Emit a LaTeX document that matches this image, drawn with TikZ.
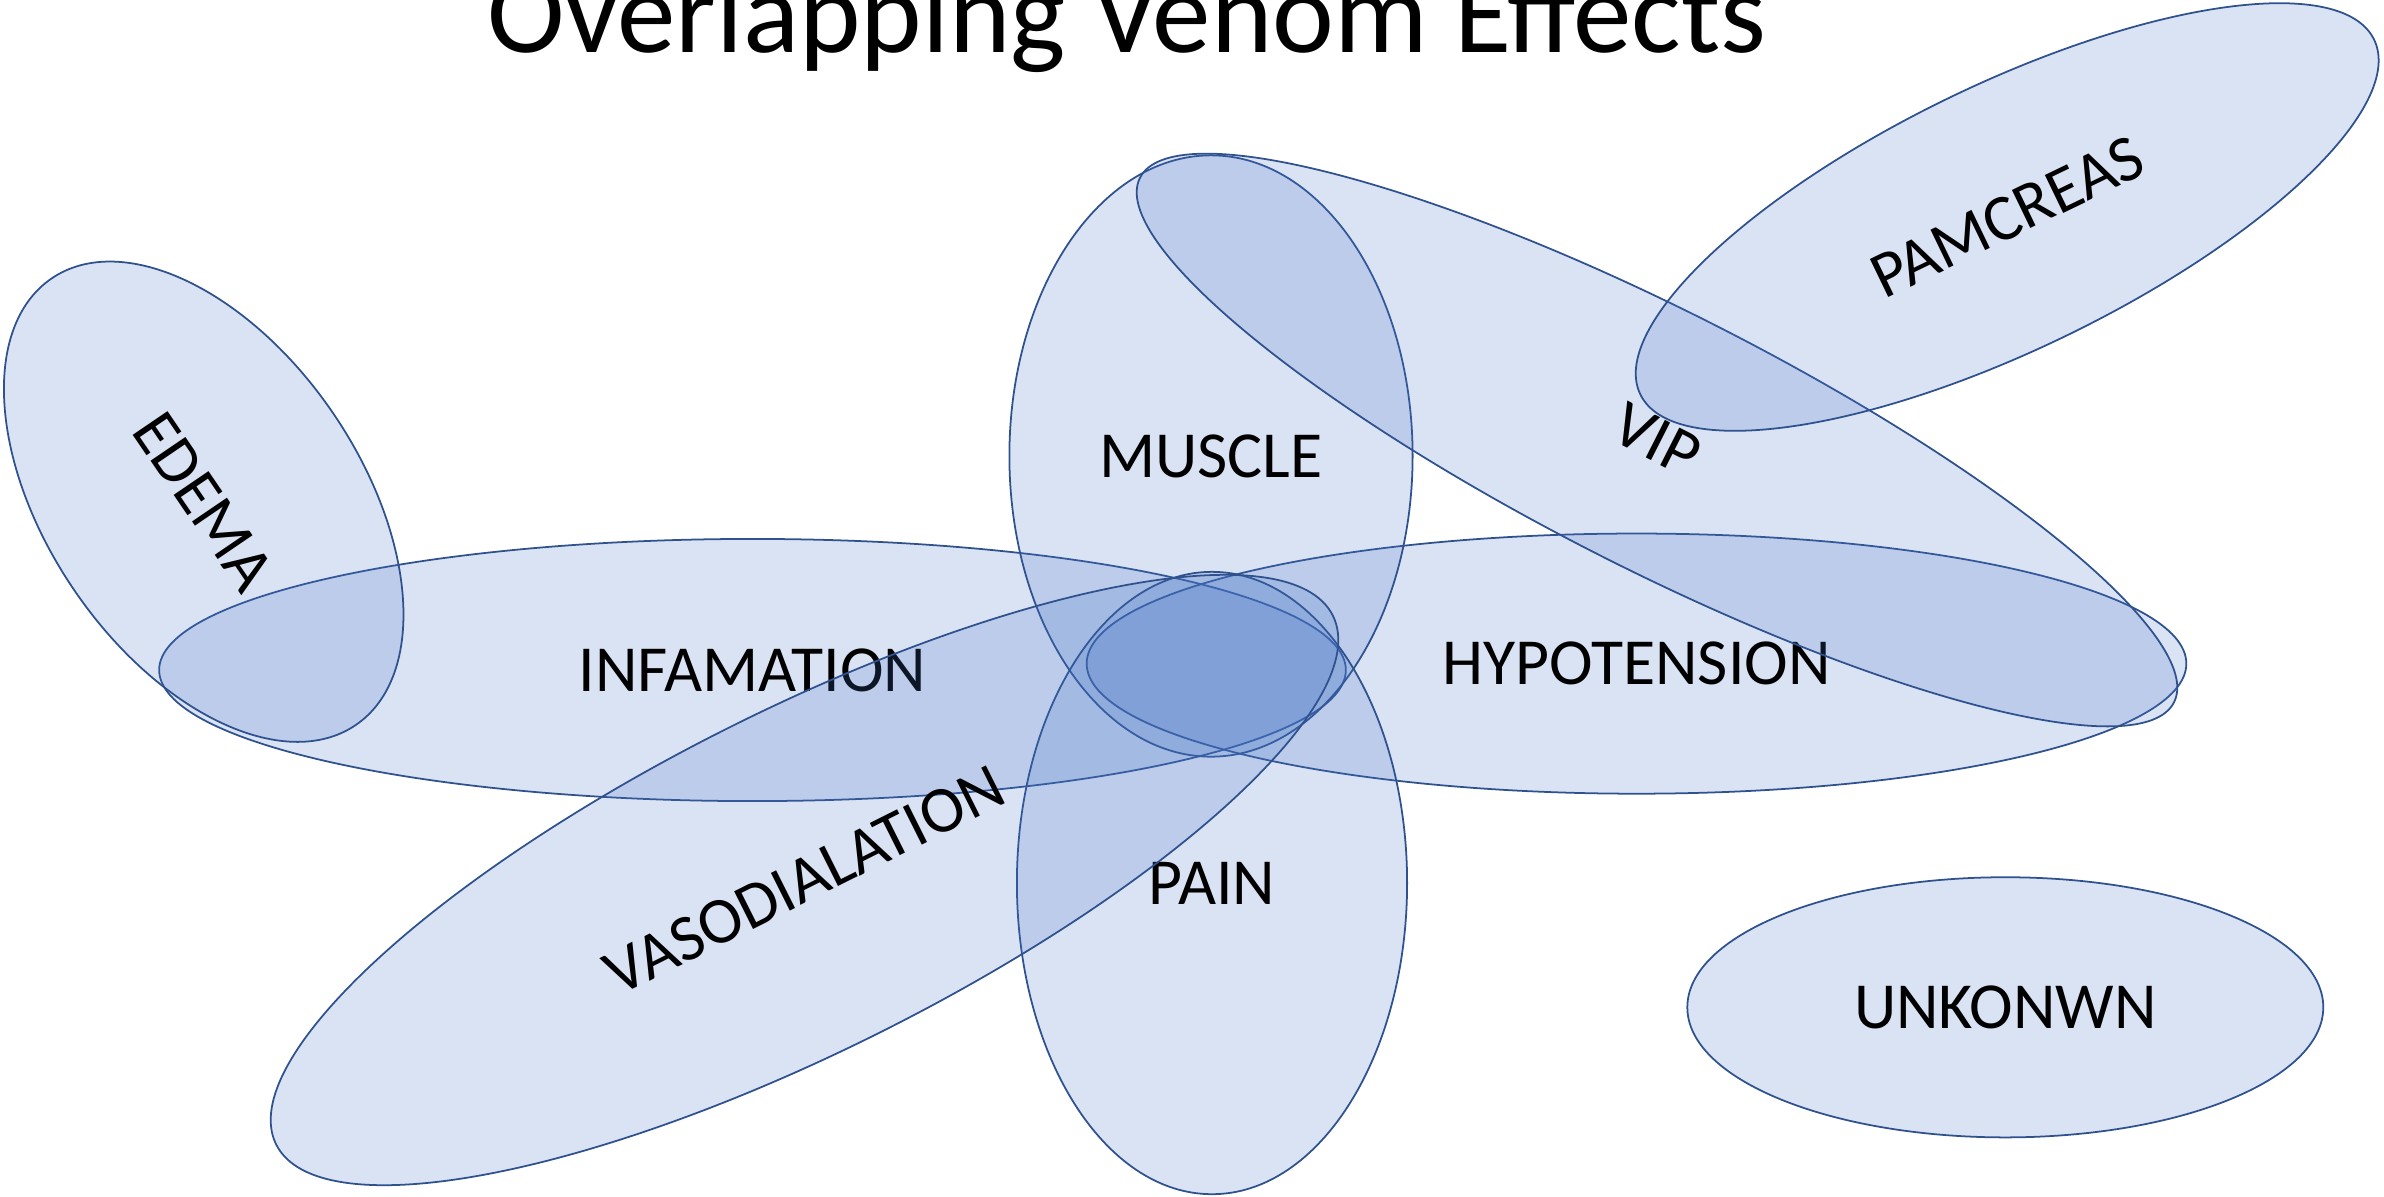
\documentclass[tikz,border=0pt]{standalone}
\usepackage{fontspec}
\setmainfont{Carlito}
\usetikzlibrary{shapes.geometric}
\definecolor{vfill}{HTML}{4472C4}
\definecolor{vline}{HTML}{2F528F}
\begin{document}
\begin{tikzpicture}[x=0.01cm,y=-0.01cm,
  venn/.style={ellipse, draw=vline, line width=0.5pt, fill=vfill,
    fill opacity=0.2, text opacity=1, text=black, inner sep=0pt,
    font=\fontsize{18.7}{22}\selectfont}]
\clip (0,0) rectangle (2384,1196);
\useasboundingbox (0,0) rectangle (2384,1196);
\node[venn, minimum width=11.86cm, minimum height=2.62cm] (infl) at (752.5,670) {INFAMATION};
\node[venn, minimum width=10.99cm, minimum height=2.6cm] (hypo) at (1636.5,663.6) {HYPOTENSION};
\node[venn, minimum width=4.03cm, minimum height=6.01cm] (musc) at (1211,456) {MUSCLE};
\node[venn, minimum width=3.9cm, minimum height=6.22cm] (pain) at (1212,883) {PAIN};
\node[venn, minimum width=5.4cm, minimum height=3.134cm, rotate=-55.75] (edema) at (203.7,501.7) {EDEMA};
\node[venn, minimum width=11.588cm, minimum height=2.572cm, rotate=-26.9] (vip) at (1657,440) {VIP};
\node[venn, minimum width=8.146cm, minimum height=2.65cm, rotate=25.8] (panc) at (2007.2,217) {PAMCREAS};
\node[venn, minimum width=11.81cm, minimum height=3.4cm, rotate=26.6] (vaso) at (804.5,880) {VASODIALATION};
\node[venn, minimum width=6.356cm, minimum height=2.6cm] (unk) at (2005.3,1007.3) {UNKONWN};
\node[font=\fontsize{33.3}{40}\selectfont, anchor=base] (title) at (1127,52) {Overlapping Venom Effects};
\end{tikzpicture}
\end{document}
